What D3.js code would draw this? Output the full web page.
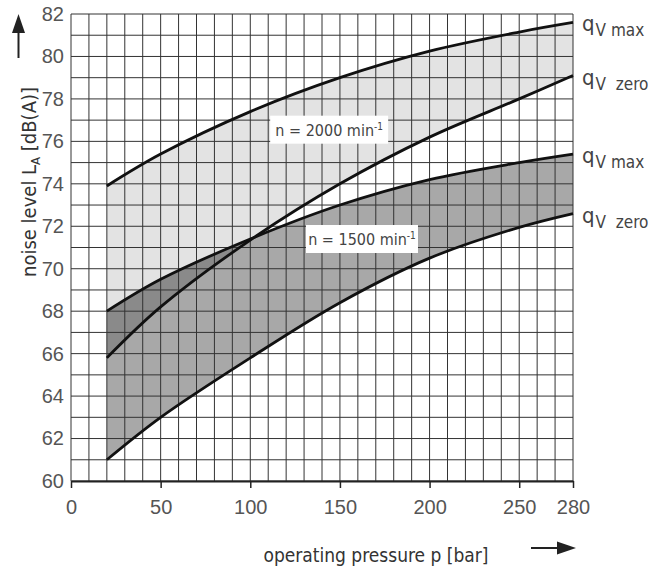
<!DOCTYPE html>
<html>
<head>
<meta charset="utf-8">
<script src="https://cdn.jsdelivr.net/npm/d3@7"></script>
<style>
  body { margin: 0; background: #fff; }
  svg { font-family: "Liberation Sans Narrow", "DejaVu Sans Condensed", "Liberation Sans", sans-serif; }
</style>
</head>
<body>
<div id="chart"></div>
<script>
// data
const pressure   = [20, 50, 100, 150, 200, 250, 280]
const n2000Max   = [73.9, 75.4, 77.4, 79.0, 80.25, 81.15, 81.6]
const n2000Zero  = [65.8, 68.2, 71.35, 74.0, 76.2, 78.0, 79.1]
const n1500Max   = [68.0, 69.5, 71.4, 73.0, 74.2, 75.0, 75.4]
const n1500Zero  = [61.0, 63.0, 65.8, 68.4, 70.5, 71.95, 72.6]
const xTicks = [0, 50, 100, 150, 200, 250, 280]
const yTicks = [60, 62, 64, 66, 68, 70, 72, 74, 76, 78, 80, 82]

const width = 664
const height = 573

const svg = d3.select("div#chart").append("svg").attr("width", width).attr("height", height)

const x = d3.scaleLinear().domain([0, 280]).range([71, 573])
const y = d3.scaleLinear().domain([60, 82]).range([481, 14])

const band = (hi, lo) => pressure.map((p, i) => ({p: p, hi: hi[i], lo: lo[i]}))
const band2000 = band(n2000Max, n2000Zero)
const band1500 = band(n1500Max, n1500Zero)

const smooth = d3.curveCatmullRom.alpha(0.5)
const area = d3.area().x(d => x(d.p)).y0(d => y(d.lo)).y1(d => y(d.hi)).curve(smooth)
const lineHi = d3.line().x(d => x(d.p)).y(d => y(d.hi)).curve(smooth)
const lineLo = d3.line().x(d => x(d.p)).y(d => y(d.lo)).curve(smooth)

// fills
svg.append("clipPath").attr("id", "clip2000").append("path").attr("d", area(band2000))
svg.append("path").attr("d", area(band2000)).attr("fill", "#e3e3e3")
svg.append("path").attr("d", area(band1500)).attr("fill", "#a8a8a8")
svg.append("path").attr("d", area(band1500)).attr("fill", "#8a8a8a").attr("clip-path", "url(#clip2000)")

// grid
const grid = svg.append("g").attr("stroke", "#333").attr("stroke-width", 1)
grid.selectAll(".v").data(d3.range(0, 281, 10)).enter().append("line")
    .attr("x1", d => x(d)).attr("x2", d => x(d)).attr("y1", y(60)).attr("y2", y(82))
grid.selectAll(".h").data(d3.range(60, 83, 1)).enter().append("line")
    .attr("x1", x(0)).attr("x2", x(280)).attr("y1", d => y(d)).attr("y2", d => y(d))

// curves
const curves = svg.append("g").attr("fill", "none").attr("stroke", "#111").attr("stroke-width", 2.8)
curves.append("path").attr("d", lineHi(band2000))
curves.append("path").attr("d", lineLo(band2000))
curves.append("path").attr("d", lineHi(band1500))
curves.append("path").attr("d", lineLo(band1500))

// axes
const xAxis = d3.axisBottom(x).tickValues(xTicks).tickSize(7).tickPadding(12).tickSizeOuter(0)
const xAxisGroup = svg.append("g").attr("transform", `translate(0, ${y(60)})`).call(xAxis)
xAxisGroup.select(".domain").attr("stroke", "#222").attr("stroke-width", 2)
xAxisGroup.selectAll(".tick line").attr("stroke", "#222").attr("stroke-width", 1.5)
xAxisGroup.selectAll("text").attr("font-size", 20).attr("fill", "#555").attr("font-family", null)

const yAxis = d3.axisLeft(y).tickValues(yTicks).tickSize(0).tickPadding(7)
const yAxisGroup = svg.append("g").attr("transform", `translate(${x(0)}, 0)`).call(yAxis)
yAxisGroup.select(".domain").remove()
yAxisGroup.selectAll("text").attr("font-size", 20).attr("fill", "#555").attr("font-family", null)

// speed labels
const boxes = [
  {p: 144, L: 76.55, txt: "n = 2000 min", w: 118, h: 28},
  {p: 162.3, L: 71.4, txt: "n = 1500 min", w: 112, h: 28}
]
boxes.forEach(b => {
  const g = svg.append("g").attr("transform", `translate(${x(b.p)}, ${y(b.L)})`)
  g.append("rect").attr("x", -b.w / 2).attr("y", -b.h / 2).attr("width", b.w).attr("height", b.h).attr("fill", "#fff")
  const t = g.append("text").attr("text-anchor", "middle").attr("y", 6).attr("font-size", 16).attr("fill", "#444")
  t.append("tspan").text(b.txt)
  t.append("tspan").attr("dy", -6).attr("font-size", 10).text("-1")
})

// curve end labels
const ends = [
  {L: n2000Max[6], sub: "V max"},
  {L: n2000Zero[6], sub: "V  zero"},
  {L: n1500Max[6], sub: "V max"},
  {L: n1500Zero[6], sub: "V  zero"}
]
ends.forEach(e => {
  const t = svg.append("text").attr("x", x(280) + 9).attr("y", y(e.L) + 9).attr("fill", "#444").attr("font-size", 22)
  t.append("tspan").text("q")
  t.append("tspan").attr("dy", 5).attr("font-size", 17).attr("dx", 1).style("white-space", "pre").text(e.sub)
})

// axis titles
const yTitle = svg.append("text").attr("transform", "translate(36, 182) rotate(-90)")
    .attr("text-anchor", "middle").attr("font-size", 20).attr("fill", "#333")
yTitle.append("tspan").text("noise level L")
yTitle.append("tspan").attr("font-size", 13).attr("dy", 4).text("A")
yTitle.append("tspan").attr("dy", -4).text(" [dB(A)]")

svg.append("text").attr("x", 376).attr("y", 562).attr("text-anchor", "middle")
    .attr("font-size", 19).attr("fill", "#333").text("operating pressure p [bar]")

// arrows
svg.append("line").attr("x1", 18.5).attr("x2", 18.5).attr("y1", 58).attr("y2", 30).attr("stroke", "#222").attr("stroke-width", 2)
svg.append("path").attr("d", "M18.5,14 L12,33 L25,33 Z").attr("fill", "#222")
svg.append("line").attr("x1", 531).attr("x2", 560).attr("y1", 548).attr("y2", 548).attr("stroke", "#222").attr("stroke-width", 2)
svg.append("path").attr("d", "M576,548 L557,541.5 L557,554.5 Z").attr("fill", "#222")
</script>
</body>
</html>
